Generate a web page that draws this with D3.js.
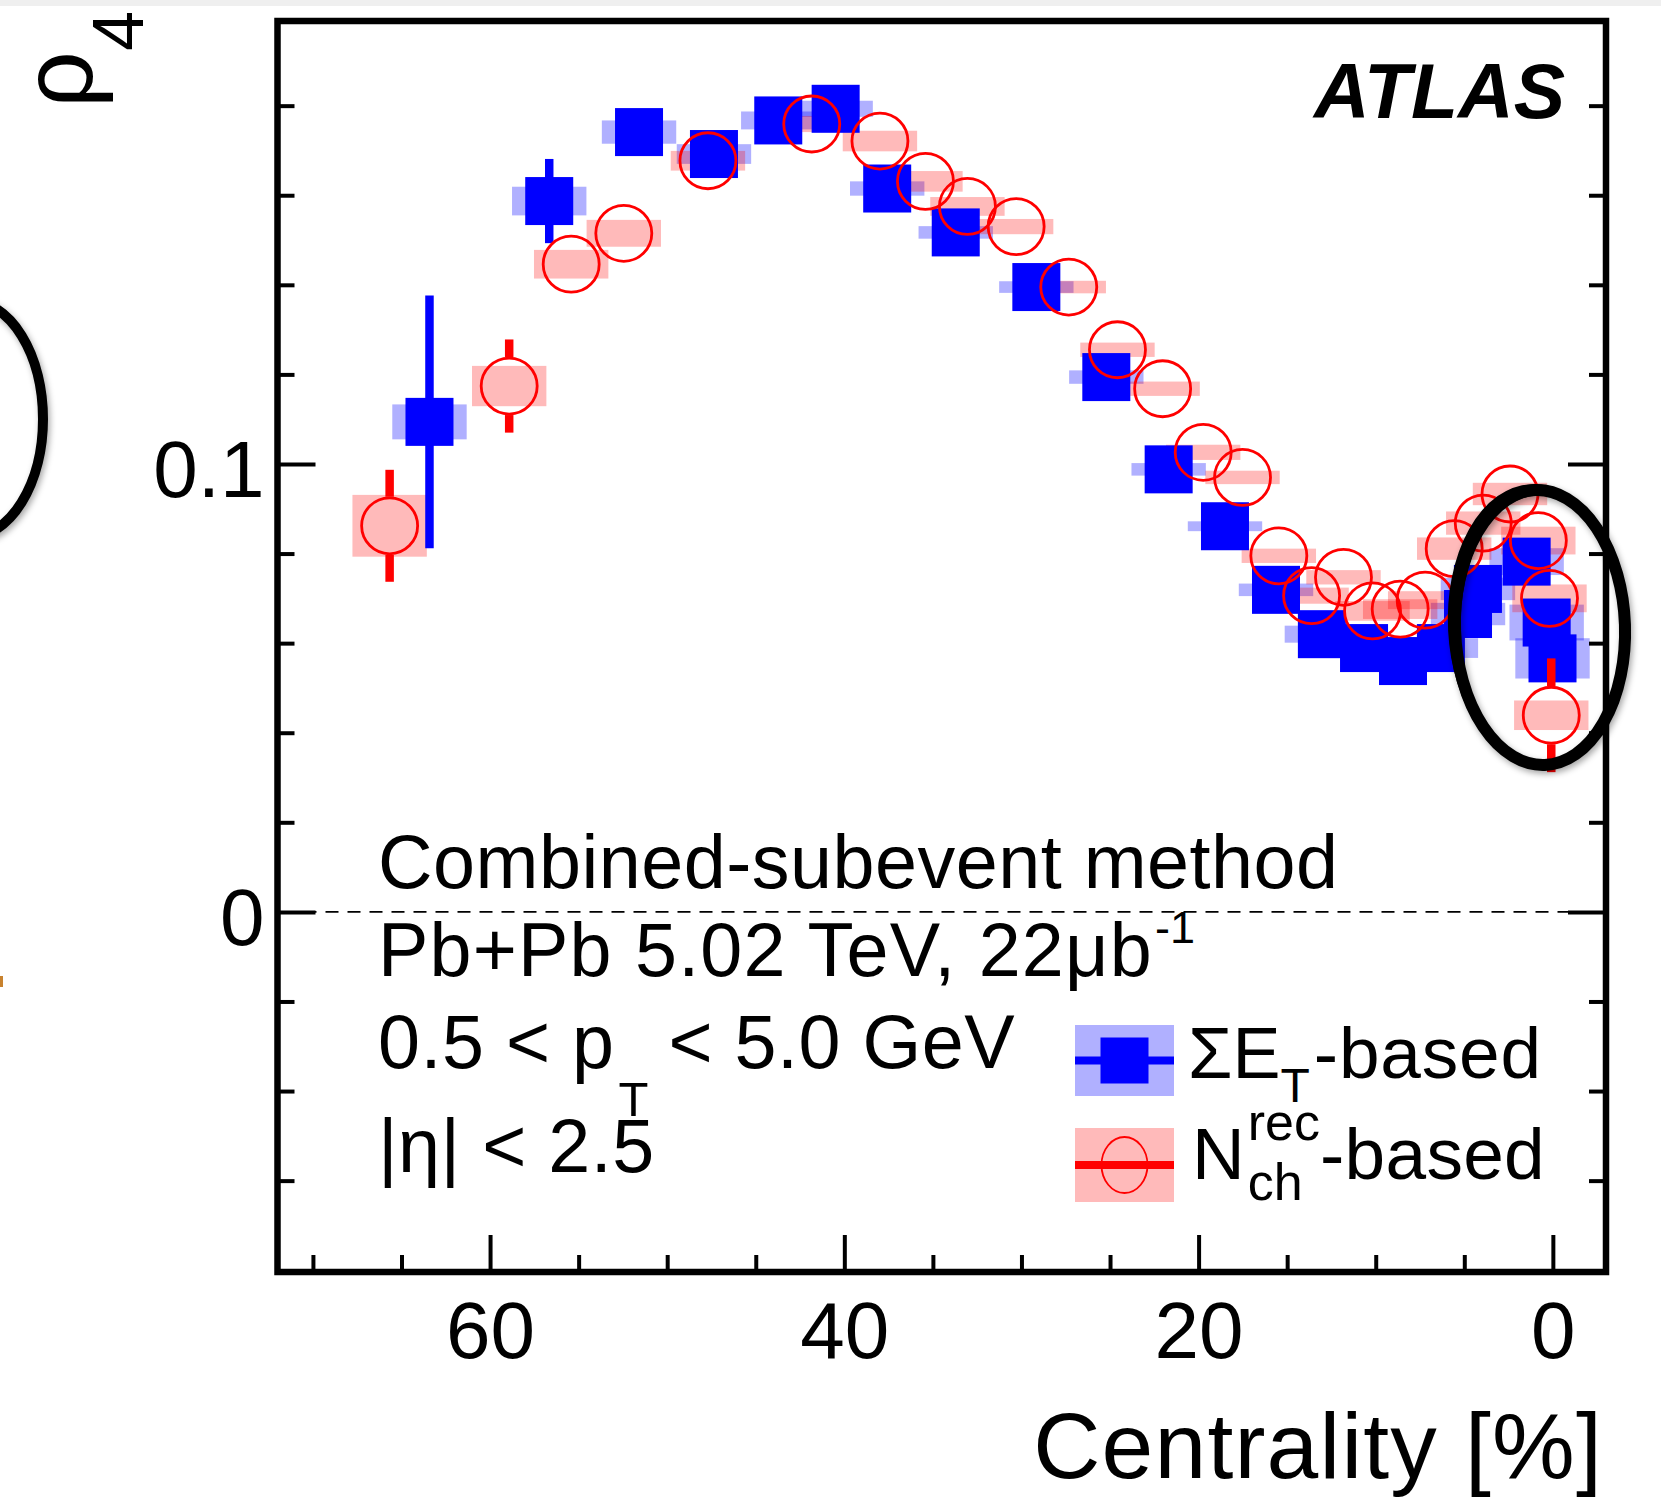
<!DOCTYPE html>
<html>
<head>
<meta charset="utf-8">
<script src="https://d3js.org/d3.v7.min.js"></script>
<style>
body { margin: 0; background: #fff; }
svg { display: block; font-family: "Liberation Sans", Arial, Helvetica, sans-serif; }
</style>
</head>
<body>
<svg id="chart" width="1661" height="1499"></svg>
<script>
// sum E_T based points: centrality [%], rho_4, stat and sys errors
var etCent = [63.42, 56.66, 51.59, 47.36, 43.73, 40.49, 37.58, 33.71, 29.16, 25.21, 21.69, 18.51, 15.63, 13.04, 10.66, 8.46, 6.32, 4.79, 4.23, 1.48, 0.35, 0.02];
var etRho = [0.1094, 0.1587, 0.1741, 0.1692, 0.1767, 0.1793, 0.1615, 0.1517, 0.1395, 0.1194, 0.0988, 0.0861, 0.0719, 0.0620, 0.0589, 0.0560, 0.0589, 0.0665, 0.0721, 0.0782, 0.0646, 0.0566];
var etStat = [0.0282, 0.0094, 0.003, 0.003, 0.003, 0.003, 0.003, 0.003, 0.003, 0.003, 0.003, 0.003, 0.003, 0.003, 0.003, 0.003, 0.003, 0.003, 0.003, 0.003, 0.003, 0.003];
var etSys = [0.0039, 0.0032, 0.0026, 0.0022, 0.0020, 0.0018, 0.0016, 0.0014, 0.0013, 0.0015, 0.0014, 0.0011, 0.0014, 0.0019, 0.0020, 0.0020, 0.0022, 0.0025, 0.0025, 0.0030, 0.0040, 0.0045];

// N_ch^rec based points
var nchCent = [65.67, 58.92, 55.42, 52.45, 47.70, 41.84, 37.99, 35.42, 33.05, 30.30, 27.33, 24.58, 22.03, 19.74, 17.52, 15.47, 13.62, 11.82, 10.18, 8.62, 7.21, 5.57, 3.93, 2.42, 0.82, 0.19, 0.09];
var nchRho = [0.0862, 0.1174, 0.1446, 0.1515, 0.1677, 0.1759, 0.1721, 0.1631, 0.1575, 0.1530, 0.1395, 0.1255, 0.1168, 0.1026, 0.0970, 0.0795, 0.0706, 0.0747, 0.0672, 0.0676, 0.0696, 0.0811, 0.0868, 0.0933, 0.0829, 0.0700, 0.0439];
var nchStat = [0.0125, 0.0104, 0.003, 0.003, 0.003, 0.003, 0.003, 0.003, 0.003, 0.003, 0.003, 0.003, 0.003, 0.003, 0.003, 0.003, 0.003, 0.003, 0.003, 0.003, 0.003, 0.003, 0.003, 0.003, 0.003, 0.003, 0.0127];
var nchSys = [0.0069, 0.0045, 0.0032, 0.0030, 0.0022, 0.0018, 0.0023, 0.0023, 0.0021, 0.0017, 0.0014, 0.0016, 0.0016, 0.0017, 0.0015, 0.0016, 0.0018, 0.0016, 0.0022, 0.0022, 0.0020, 0.0025, 0.0026, 0.0025, 0.0031, 0.0031, 0.0033];

var sysHalfWidth = 2.1; // centrality units

var xMajorTicks = [60, 40, 20, 0];
var xMinorTicks = [70, 65, 55, 50, 45, 35, 30, 25, 15, 10, 5];
var yMajorTicks = [0, 0.1];
var yMinorTicks = [-0.06, -0.04, -0.02, 0.02, 0.04, 0.06, 0.08, 0.12, 0.14, 0.16, 0.18];

var BLUE = "#0000ff", RED = "#ff0000";
var BLUE_SYS = "rgba(0,0,255,0.31)", RED_SYS = "rgba(255,0,0,0.27)";

// frame edges (window.top is taken, so no plain "top")
var frameL = 277.5, frameR = 1606, frameT = 21, frameB = 1272;

var svg = d3.select("#chart");

var x = d3.scaleLinear().domain([72, -3]).range([frameL, frameR]);
var y = d3.scaleLinear().domain([-0.0804, 0.1989]).range([frameB, frameT]);

// screenshot edge band
svg.append("rect").attr("x", 0).attr("y", 0).attr("width", 1661).attr("height", 6).attr("fill", "#efefef");

svg.append("line")
	.attr("x1", frameL + 4).attr("x2", frameR - 4)
	.attr("y1", y(0)).attr("y2", y(0))
	.attr("stroke", "#000").attr("stroke-width", 1.8)
	.attr("stroke-dasharray", "13,9");

var ptsEt = etCent.map(function(c, i) {
	return {c: c, v: etRho[i], stat: etStat[i], sys: etSys[i]};
});
var ptsNch = nchCent.map(function(c, i) {
	return {c: c, v: nchRho[i], stat: nchStat[i], sys: nchSys[i]};
});

var sysBoxes = function(data, fill) {
	svg.append("g").selectAll("rect").data(data).enter().append("rect")
		.attr("x", function(d) { return x(d.c + sysHalfWidth); })
		.attr("width", function(d) { return x(d.c - sysHalfWidth) - x(d.c + sysHalfWidth); })
		.attr("y", function(d) { return y(d.v + d.sys); })
		.attr("height", function(d) { return y(d.v - d.sys) - y(d.v + d.sys); })
		.attr("fill", fill);
};

var errBars = function(data, color, gap) {
	var g = svg.append("g").attr("stroke", color).attr("stroke-width", 8.5);
	data.forEach(function(d) {
		var cx = x(d.c), yHi = y(d.v + d.stat), yLo = y(d.v - d.stat), cy = y(d.v);
		if (cy - yHi > gap) {
			g.append("line").attr("x1", cx).attr("x2", cx).attr("y1", yHi).attr("y2", cy - gap);
			g.append("line").attr("x1", cx).attr("x2", cx).attr("y1", cy + gap).attr("y2", yLo);
		}
	});
};

sysBoxes(ptsEt, BLUE_SYS);
sysBoxes(ptsNch, RED_SYS);

errBars(ptsEt, BLUE, 23);
var sq = 48;
svg.append("g").selectAll("rect").data(ptsEt).enter().append("rect")
	.attr("x", function(d) { return x(d.c) - sq / 2; })
	.attr("y", function(d) { return y(d.v) - sq / 2; })
	.attr("width", sq).attr("height", sq)
	.attr("fill", BLUE);

errBars(ptsNch, RED, 29);
svg.append("g").selectAll("circle").data(ptsNch).enter().append("circle")
	.attr("cx", function(d) { return x(d.c); })
	.attr("cy", function(d) { return y(d.v); })
	.attr("r", 28)
	.attr("fill", "none")
	.attr("stroke", RED).attr("stroke-width", 2.8);

// axes (inward ticks)
var styleAxis = function(g) {
	g.select(".domain").remove();
	g.selectAll(".tick line").attr("stroke", "#000").attr("stroke-width", 4);
	g.selectAll(".tick text").attr("fill", "#000").attr("font-size", 80)
		.attr("font-family", "'Liberation Sans', Arial, sans-serif");
};

svg.append("g").attr("transform", "translate(0," + frameB + ")")
	.call(d3.axisBottom(x).tickValues(xMajorTicks).tickSize(-37).tickPadding(29).tickFormat(d3.format("d")))
	.call(styleAxis);
svg.append("g").attr("transform", "translate(0," + frameB + ")")
	.call(d3.axisBottom(x).tickValues(xMinorTicks).tickSize(-17).tickFormat(""))
	.call(styleAxis);

svg.append("g").attr("transform", "translate(" + frameL + ",0)")
	.call(d3.axisLeft(y).tickValues(yMajorTicks).tickSize(-38).tickPadding(13).tickFormat(function(d) { return d === 0 ? "0" : d3.format(".1f")(d); }))
	.call(styleAxis)
	.call(function(g) { g.selectAll(".tick text").attr("dy", "0.41em"); });
svg.append("g").attr("transform", "translate(" + frameL + ",0)")
	.call(d3.axisLeft(y).tickValues(yMinorTicks).tickSize(-17).tickFormat(""))
	.call(styleAxis);

svg.append("g").attr("transform", "translate(" + frameR + ",0)")
	.call(d3.axisRight(y).tickValues(yMajorTicks).tickSize(-38).tickFormat(""))
	.call(styleAxis);
svg.append("g").attr("transform", "translate(" + frameR + ",0)")
	.call(d3.axisRight(y).tickValues(yMinorTicks).tickSize(-17).tickFormat(""))
	.call(styleAxis);

// frame
svg.append("rect")
	.attr("x", frameL).attr("y", frameT)
	.attr("width", frameR - frameL).attr("height", frameB - frameT)
	.attr("fill", "none").attr("stroke", "#000").attr("stroke-width", 6.5);

// text pieces placed one after another, "stack" keeps x for sub/sup pairs
var drawRich = function(x0, y0, parts) {
	var cx = x0, pending = 0;
	parts.forEach(function(p) {
		var t = svg.append("text")
			.attr("x", cx).attr("y", y0 + (p.dy || 0))
			.attr("font-size", p.size)
			.attr("letter-spacing", p.ls || 0)
			.attr("fill", "#000")
			.text(p.t);
		var w = t.node().getComputedTextLength();
		if (p.stack) {
			pending = w;
		} else {
			cx += Math.max(w, pending) + (p.gap || 0);
			pending = 0;
		}
	});
};

var textSize = 75.5, smallSize = 49, ls = 0.5;
drawRich(378, 888, [{t: "Combined-subevent method", size: textSize, ls: ls}]);
drawRich(378, 976, [{t: "Pb+Pb 5.02 TeV, 22\u03bcb", size: textSize, ls: 1.2, gap: 2}, {t: "-1", size: 45, dy: -33}]);
drawRich(378, 1068, [{t: "0.5 < p", size: textSize, ls: ls, gap: 4}, {t: "T", size: smallSize, dy: 48, gap: 20}, {t: "< 5.0 GeV", size: textSize, ls: ls}]);
drawRich(378, 1172, [{t: "|\u03b7| < 2.5", size: textSize, ls: ls}]);

svg.append("text")
	.attr("x", 1565).attr("y", 118)
	.attr("text-anchor", "end")
	.attr("font-size", 77).attr("font-weight", "bold").attr("font-style", "italic")
	.text("ATLAS");

// legend
var legX = 1075, legW = 99;
var legend = svg.append("g");
legend.append("rect").attr("x", legX).attr("y", 1025).attr("width", legW).attr("height", 71).attr("fill", BLUE_SYS);
legend.append("line").attr("x1", legX).attr("x2", legX + legW).attr("y1", 1060.5).attr("y2", 1060.5)
	.attr("stroke", BLUE).attr("stroke-width", 8);
legend.append("rect").attr("x", legX + legW / 2 - 24).attr("y", 1060.5 - 23).attr("width", 48).attr("height", 46).attr("fill", BLUE);

legend.append("rect").attr("x", legX).attr("y", 1128).attr("width", legW).attr("height", 74).attr("fill", RED_SYS);
legend.append("line").attr("x1", legX).attr("x2", legX + legW).attr("y1", 1165).attr("y2", 1165)
	.attr("stroke", RED).attr("stroke-width", 8);
legend.append("ellipse").attr("cx", legX + legW / 2).attr("cy", 1165).attr("rx", 23).attr("ry", 28)
	.attr("fill", "none").attr("stroke", RED).attr("stroke-width", 1.8);

drawRich(1188, 1078, [{t: "\u03a3E", size: 72}, {t: "T", size: 48, dy: 24, gap: 4}, {t: "-based", size: 73, ls: 0.8}]);
drawRich(1192, 1179, [{t: "N", size: 73, gap: 3}, {t: "rec", size: 52, dy: -39, stack: true}, {t: "ch", size: 52, dy: 21, gap: 0}, {t: "-based", size: 73, ls: 0.3}]);

// axis titles
svg.append("text")
	.attr("x", 1603).attr("y", 1478)
	.attr("text-anchor", "end")
	.attr("font-size", 93)
	.attr("letter-spacing", 1.2)
	.text("Centrality [%]");

var yTitle = svg.append("text")
	.attr("transform", "translate(92,108) rotate(-90)")
	.attr("font-size", 100);
yTitle.append("tspan").text("\u03c1");
yTitle.append("tspan").attr("font-size", 72).attr("dy", 51).text("4");

// hand drawn marks over the figure
var defs = svg.append("defs");
var f = defs.append("filter").attr("id", "shadow").attr("x", "-20%").attr("y", "-20%").attr("width", "140%").attr("height", "140%");
f.append("feDropShadow").attr("dx", 2).attr("dy", 3).attr("stdDeviation", 3).attr("flood-color", "#000").attr("flood-opacity", 0.35);

var marks = svg.append("g").attr("filter", "url(#shadow)").attr("fill", "none").attr("stroke", "#000");
marks.append("ellipse").attr("cx", 1540).attr("cy", 627.5).attr("rx", 85).attr("ry", 137.5)
	.attr("transform", "rotate(-2,1540,627.5)").attr("stroke-width", 12);
marks.append("ellipse").attr("cx", 1538).attr("cy", 626).attr("rx", 88).attr("ry", 140)
	.attr("transform", "rotate(-3,1538,626)").attr("stroke-width", 4);
marks.append("ellipse").attr("cx", 1541).attr("cy", 629).attr("rx", 82).attr("ry", 135)
	.attr("transform", "rotate(-1,1541,629)").attr("stroke-width", 3);
marks.append("ellipse").attr("cx", -30).attr("cy", 419).attr("rx", 73).attr("ry", 118).attr("stroke-width", 10);
marks.append("ellipse").attr("cx", -32).attr("cy", 418).attr("rx", 76).attr("ry", 121).attr("stroke-width", 4);

svg.append("rect").attr("x", 0).attr("y", 976).attr("width", 3).attr("height", 11).attr("fill", "#c8822e");
</script>
</body>
</html>
